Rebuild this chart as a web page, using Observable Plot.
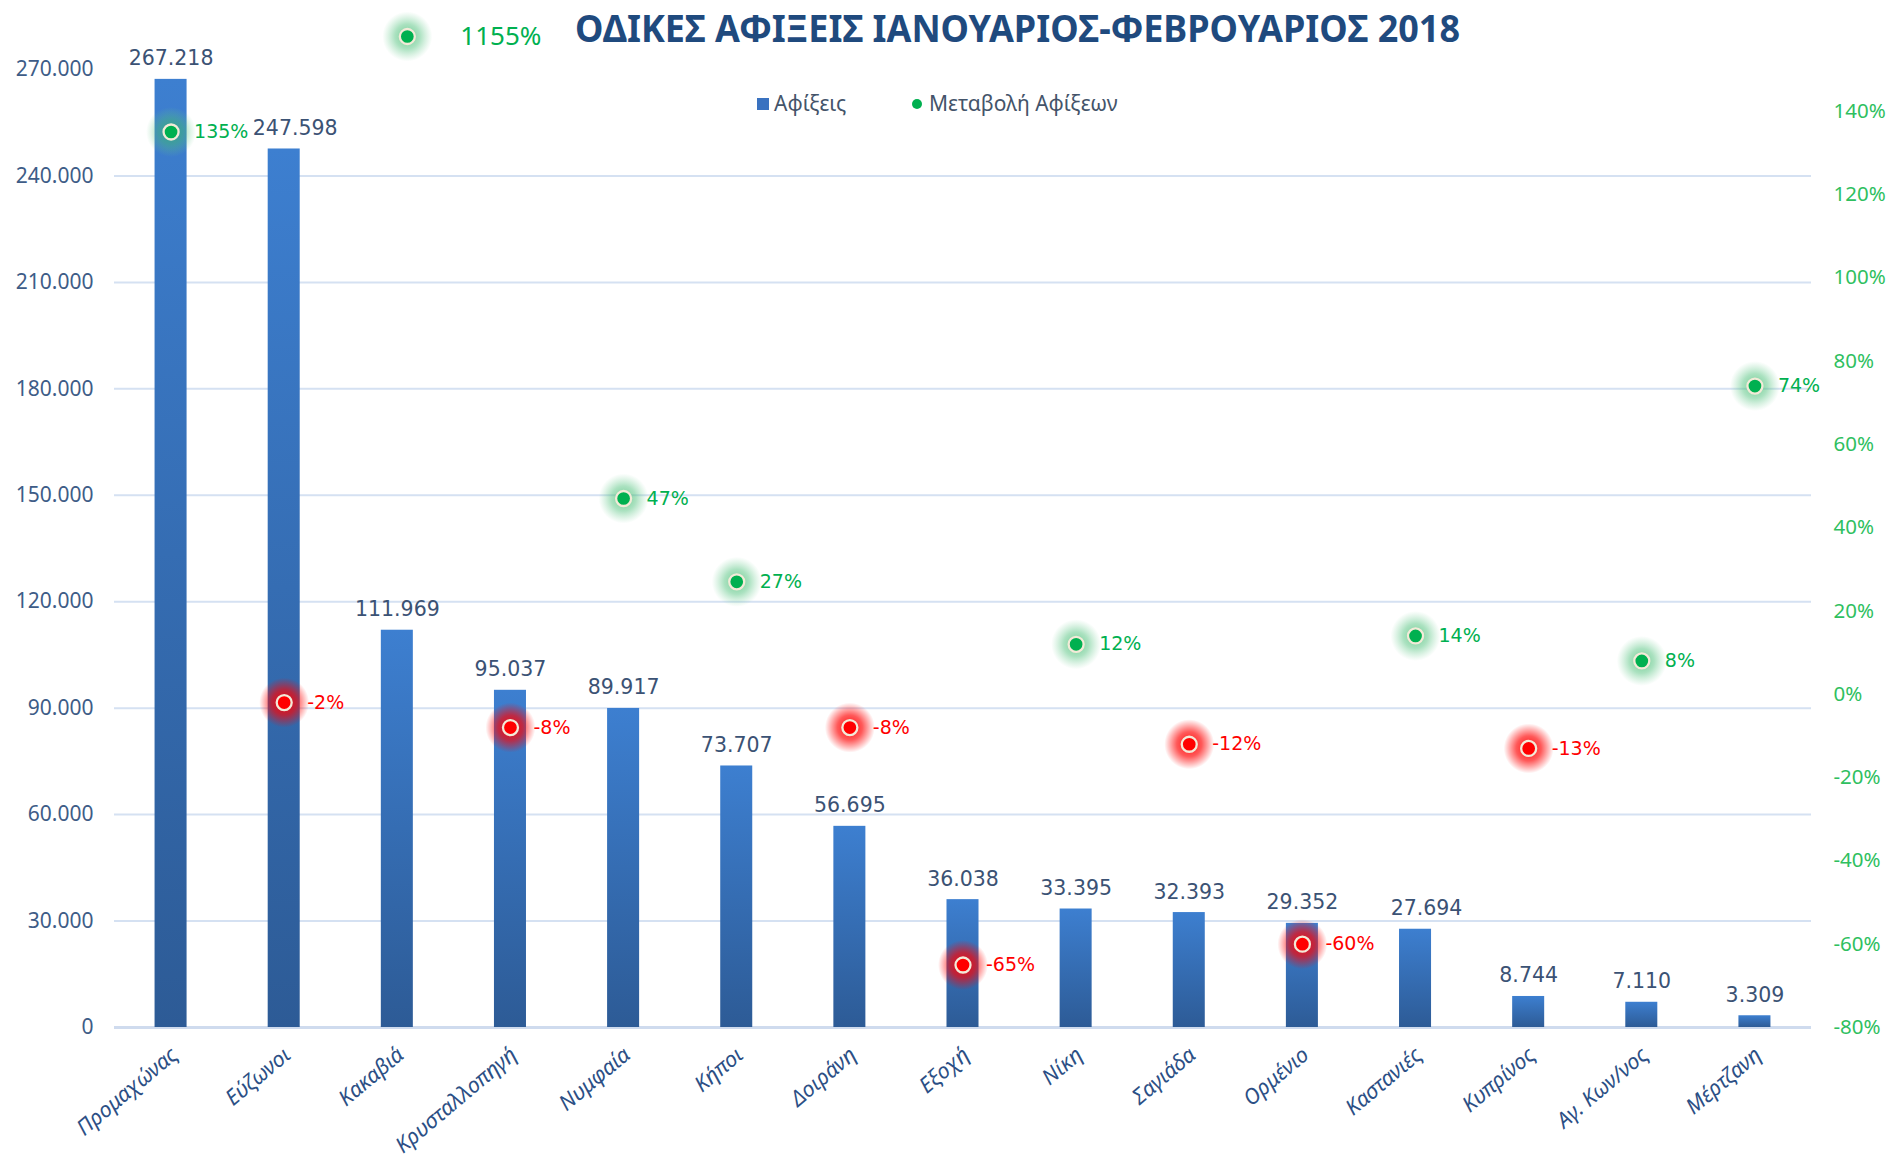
<!DOCTYPE html>
<html>
<head>
<meta charset="utf-8">
<script src="https://cdn.jsdelivr.net/npm/d3@7"></script>
<script src="https://cdn.jsdelivr.net/npm/@observablehq/plot@0.6"></script>
<style>
  html, body { margin: 0; padding: 0; background: #ffffff; }
  #wrap { position: relative; width: 1893px; height: 1159px; overflow: hidden; font-family: "Noto Sans", sans-serif; }
  #title { position: absolute; left: 0; top: 2px; white-space: nowrap; font-weight: bold; font-size: 37px; color: #1f4a7e; transform-origin: 0 0; }
  .leg { position: absolute; top: 89px; font-size: 21px; color: #44546a; white-space: nowrap; }
  .sq { display: inline-block; width: 12px; height: 12px; background: #3a72c0; margin-right: 5px; vertical-align: 1px; }
  .cd { display: inline-block; width: 10px; height: 10px; border-radius: 50%; background: #00b050; margin-right: 7px; vertical-align: 2px; }
</style>
</head>
<body>
<div id="wrap">
  <div id="chart"></div>
  <div id="title">ΟΔΙΚΕΣ ΑΦΙΞΕΙΣ ΙΑΝΟΥΑΡΙΟΣ-ΦΕΒΡΟΥΑΡΙΟΣ 2018</div>
  <div class="leg" style="left:757px"><span class="sq"></span>Αφίξεις</div>
  <div class="leg" style="left:912px"><span class="cd"></span>Μεταβολή Αφίξεων</div>
</div>
<script>
// ---- data ----
const crossings = ["Προμαχώνας","Εύζωνοι","Κακαβιά","Κρυσταλλοπηγή","Νυμφαία","Κήποι","Δοιράνη","Εξοχή","Νίκη","Σαγιάδα","Ορμένιο","Καστανιές","Κυπρίνος","Αγ. Κων/νος","Μέρτζανη"];
const arrivals = [267218, 247598, 111969, 95037, 89917, 73707, 56695, 36038, 33395, 32393, 29352, 27694, 8744, 7110, 3309];
const changePct = [135, -2, 1155, -8, 47, 27, -8, -65, 12, -12, -60, 14, -13, 8, 74];
const leftTicks = [0, 30000, 60000, 90000, 120000, 150000, 180000, 210000, 240000, 270000];
const rightTicks = [-80, -60, -40, -20, 0, 20, 40, 60, 80, 100, 120, 140];
const leftMax = 270000;
const pctMin = -80, pctMax = 150;

// ---- helpers ----
const grLocale = d3.formatLocale({decimal: ",", thousands: ".", grouping: [3], currency: ["", "€"]});
const fmtNum = grLocale.format(",d");
const pctText = d => d.pct + "%";
const toY = p => (Math.min(Math.max(p, pctMin), pctMax) - pctMin) / (pctMax - pctMin) * leftMax;
const fromY = v => v / leftMax * (pctMax - pctMin) + pctMin;

const rows = crossings.map((name, i) => ({name, value: arrivals[i], pct: changePct[i], py: toY(changePct[i]), off: changePct[i] > pctMax}));
const inRange = rows.filter(d => !d.off);
const outRange = rows.filter(d => d.off);
const pos = d => d.pct >= 0;
// a value label is nudged right when the previous crossing's long % label sits at its height
const crowded = rows.filter((d, i) => i > 0 && !rows[i - 1].off && pctText(rows[i - 1]).length > 3 && Math.abs(rows[i - 1].py - d.value) < 12000);
const clear = rows.filter(d => !crowded.includes(d));

const GREEN = "#00b050", RED = "#ff0000";
const ns = "http://www.w3.org/2000/svg";

const defsMark = () => {
  const defs = document.createElementNS(ns, "defs");
  defs.innerHTML = `
    <linearGradient id="barGrad" x1="0" y1="0" x2="0" y2="1">
      <stop offset="0" stop-color="#3d7fd0"/>
      <stop offset="1" stop-color="#2d5b96"/>
    </linearGradient>
    <radialGradient id="glowRed" cx="0.5" cy="0.5" r="0.5">
      <stop offset="0" stop-color="#ff0000" stop-opacity="0.95"/>
      <stop offset="0.5" stop-color="#ff0000" stop-opacity="0.65"/>
      <stop offset="1" stop-color="#ff0000" stop-opacity="0"/>
    </radialGradient>
    <radialGradient id="glowGreen" cx="0.5" cy="0.5" r="0.5">
      <stop offset="0" stop-color="#2fb463" stop-opacity="0.7"/>
      <stop offset="0.5" stop-color="#45be74" stop-opacity="0.45"/>
      <stop offset="1" stop-color="#6ccb90" stop-opacity="0"/>
    </radialGradient>`;
  return defs;
};

const dotLayers = (data, extra = {}) => [
  Plot.dot(data, {x: "name", y: "py", r: 25, stroke: null, fill: d => pos(d) ? "url(#glowGreen)" : "url(#glowRed)", ...extra}),
  Plot.dot(data, {x: "name", y: "py", r: 7.5, fill: d => pos(d) ? GREEN : RED, stroke: "#f3ead8", strokeWidth: 2.3, ...extra})
];

const valueLabel = {x: "name", y: "value", text: d => fmtNum(d.value), lineAnchor: "bottom", dy: -14, fontSize: 20.5, fontFamily: "DejaVu Sans, sans-serif", fill: "#3b5274"};

const chart = Plot.plot({
  width: 1893,
  height: 1159,
  marginLeft: 114,
  marginRight: 82,
  marginTop: 69,
  marginBottom: 132,
  style: {fontFamily: "Noto Sans, sans-serif", background: "transparent", overflow: "visible"},
  x: {type: "band", domain: crossings, paddingInner: 0.717, paddingOuter: 0.3585, round: false, axis: null},
  y: {domain: [0, leftMax], axis: null},
  color: {type: "identity"},
  marks: [
    defsMark,
    Plot.gridY(leftTicks.filter(t => t > 0 && t < leftMax), {stroke: "#d5e1f2", strokeOpacity: 1, strokeWidth: 2}),
    Plot.ruleY([0], {stroke: "#cfdbee", strokeWidth: 3}),
    Plot.axisY(leftTicks, {anchor: "left", tickSize: 0, tickPadding: 21, tickFormat: fmtNum, fontSize: 21, fill: "#3e5c87", label: null}),
    Plot.axisY(rightTicks.map(toY), {anchor: "right", tickSize: 0, tickPadding: 22, tickFormat: v => Math.round(fromY(v)) + "%", fontSize: 20.5, fill: "#2fbf5f", label: null}),
    Plot.barY(rows, {x: "name", y: "value", fill: "url(#barGrad)"}),
    Plot.text(clear, valueLabel),
    Plot.text(crowded, {...valueLabel, dx: 11}),
    Plot.text(crossings, {x: d => d, text: d => d, frameAnchor: "bottom", rotate: -40, textAnchor: "end", lineAnchor: "top", dx: -2, dy: 18, fontSize: 21.5, fontStyle: "italic", fill: "#2c4f85"}),
    ...dotLayers(inRange),
    Plot.text(inRange, {x: "name", y: "py", text: pctText, textAnchor: "start", dx: 23, fontSize: 19, fontFamily: "DejaVu Sans, sans-serif", fill: d => pos(d) ? GREEN : RED}),
    ...dotLayers(outRange, {dx: 10, dy: -33}),
    Plot.text(outRange, {x: "name", y: "py", text: pctText, textAnchor: "start", dx: 63, dy: -33, fontSize: 26, fill: GREEN})
  ]
});
document.getElementById("chart").appendChild(chart);

function fitTitle() {
  const t = document.getElementById("title");
  t.style.transform = "none";
  const w = t.getBoundingClientRect().width;
  const target = 885;
  const s = target / w;
  const left = 1017 - target / 2;
  t.style.left = left + "px";
  t.style.transform = `scaleX(${s})`;
}
fitTitle();
if (document.fonts && document.fonts.ready) document.fonts.ready.then(fitTitle);
</script>
</body>
</html>
